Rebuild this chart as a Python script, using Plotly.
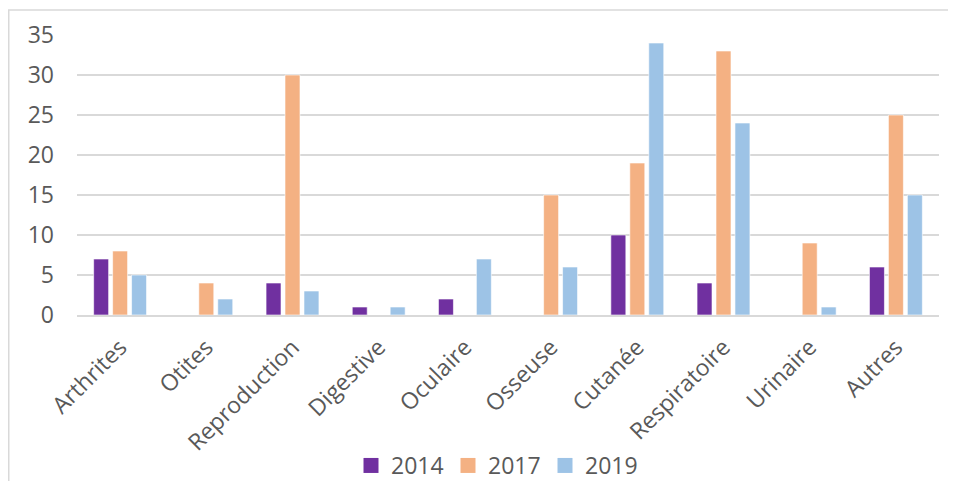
import plotly.graph_objects as go

categories = ["Arthrites", "Otites", "Reproduction", "Digestive", "Oculaire",
              "Osseuse", "Cutanée", "Respiratoire", "Urinaire", "Autres"]
v2014 = [7, 0, 4, 1, 2, 0, 10, 4, 0, 6]
v2017 = [8, 4, 30, 0, 0, 15, 19, 33, 9, 25]
v2019 = [5, 2, 3, 1, 7, 6, 34, 24, 1, 15]
series_names = ["2014", "2017", "2019"]
colors = ["#7030A0", "#F4B183", "#9DC3E6"]

fig = go.Figure()
for name, vals, col in zip(series_names, [v2014, v2017, v2019], colors):
    fig.add_trace(go.Bar(x=categories, y=vals, name=name, legendgroup=name, showlegend=False,
                         marker=dict(color=col, line=dict(color="rgba(255,255,255,0.6)", width=1))))
# legend entries (square swatches like the original)
for name, col in zip(series_names, colors):
    fig.add_trace(go.Scatter(x=[None], y=[None], mode="markers", name=name, legendgroup=name,
                             marker=dict(symbol="square", size=15, color=col, line=dict(width=0))))

font_fam = "Open Sans, sans-serif"
FS = 23
W, H = 948, 473
L, T, B, R = 69, 27, 165.5, 17
plot_h = H - T - B
plot_w = W - L - R
fig.update_layout(
    width=W, height=H,
    margin=dict(l=L, r=R, t=T, b=B),
    paper_bgcolor="white", plot_bgcolor="white",
    barmode="group", bargap=0.34, bargroupgap=0.21,
    font=dict(family=font_fam, size=FS, color="#595959"),
    showlegend=True,
    legend=dict(orientation="h", xref="container", x=343 / W, xanchor="left",
                yref="container", y=1 - 457.5 / H, yanchor="middle",
                font=dict(size=FS, color="#595959"), itemwidth=30,
                entrywidth=52, entrywidthmode="pixels",
                traceorder="normal"),
    xaxis=dict(tickangle=-45, showgrid=False, showline=True, linecolor="#D9D9D9",
               linewidth=1.5, ticks="", automargin=False, ticklabelstandoff=8,
               tickfont=dict(size=FS, color="#595959")),
    yaxis=dict(range=[0, 35], dtick=5, showgrid=True, gridcolor="#D9D9D9", gridwidth=1.5,
               zeroline=False, showline=False, ticks="", ticklabelstandoff=22,
               automargin=False, tickfont=dict(size=FS, color="#595959")),
    shapes=[dict(type="rect", xref="paper", yref="paper",
                 x0=(0.75 - L) / plot_w, x1=1.2, y0=-1.0, y1=(T + plot_h - 2) / plot_h,
                 line=dict(color="#D9D9D9", width=1.5), fillcolor="rgba(0,0,0,0)",
                 layer="below")],
)
fig.write_html("out.html")
